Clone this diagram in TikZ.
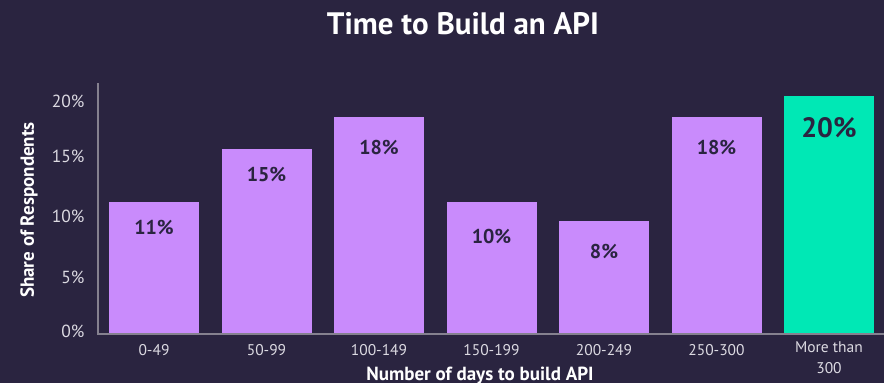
\documentclass[tikz,border=0pt]{standalone}
\usepackage{fontspec}
\setmainfont{PT Sans}
\usetikzlibrary{calc,positioning}

\definecolor{bg}{HTML}{2A2440}
\definecolor{barpurple}{HTML}{C98BFC}
\definecolor{bargreen}{HTML}{00E8B5}
\definecolor{axisgray}{HTML}{85818F}
\definecolor{ticktext}{HTML}{DCDAE2}

\tikzset{
  bar/.style={fill=barpurple, minimum width=90pt, inner sep=0pt, anchor=south},
  val/.style={text=bg, font=\bfseries\fontsize{20}{22}\selectfont},
  tick/.style={text=ticktext, anchor=east, font=\fontsize{17.5}{19}\selectfont},
  cat/.style={text=ticktext, align=center, font=\fontsize{15.5}{21}\selectfont},
  axtitle/.style={text=white, font=\bfseries\fontsize{19}{21}\selectfont}
}

\begin{document}
\begin{tikzpicture}[x=1pt, y=-1pt]
            \fill[bg] (0,0) rectangle (884,383);
            \useasboundingbox (0,0) rectangle (884,383);
            \node[text=white, font=\bfseries\fontsize{31}{34}\selectfont] (title) at (463,24) {Time to Build an API};
            % bars
            \node[bar, minimum height=132pt] (b1) at (154,334) {};
            \node[bar, minimum height=185pt] (b2) at (266.5,334) {};
            \node[bar, minimum height=217pt] (b3) at (379,334) {};
            \node[bar, minimum height=132pt] (b4) at (491.5,334) {};
            \node[bar, minimum height=113pt] (b5) at (604,334) {};
            \node[bar, minimum height=217pt] (b6) at (716.5,334) {};
            \node[bar, fill=bargreen, minimum height=238pt] (b7) at (829,334) {};
            % values
            \node[val] (v1) at ($(b1.north)+(0,26)$) {11\%};
            \node[val] (v2) at ($(b2.north)+(0,26)$) {15\%};
            \node[val] (v3) at ($(b3.north)+(0,31)$) {18\%};
            \node[val] (v4) at ($(b4.north)+(0,35)$) {10\%};
            \node[val] (v5) at ($(b5.north)+(0,31)$) {8\%};
            \node[val] (v6) at ($(b6.north)+(0,31)$) {18\%};
            \node[val, font=\bfseries\fontsize{28}{30}\selectfont] (v7) at ($(b7.north)+(0,32)$) {20\%};
            % axes
            \coordinate (top) at (98,83);
            \coordinate (origin) at (98,334);
            \coordinate (right) at (884,334);
            \draw[axisgray, line width=2pt] (top) -- (origin) -- (right);
            \node[tick] (t20) at (88,101.5) {20\%};
            \node[tick] (t15) at (88,156.5) {15\%};
            \node[tick] (t10) at (88,216.5) {10\%};
            \node[tick] (t5) at (88,277.5) {5\%};
            \node[tick] (t0) at (88,331) {0\%};
            % categories
            \node[cat] (c1) at ($(b1.south)+(0,16)$) {0-49};
            \node[cat] (c2) at ($(b2.south)+(0,16)$) {50-99};
            \node[cat] (c3) at ($(b3.south)+(0,16)$) {100-149};
            \node[cat] (c4) at ($(b4.south)+(0,16)$) {150-199};
            \node[cat] (c5) at ($(b5.south)+(0,16)$) {200-249};
            \node[cat] (c6) at ($(b6.south)+(0,16)$) {250-300};
            \node[cat] (c7) at ($(b7.south)+(0,24)$) {More than\\300};
            \node[axtitle] (xtitle) at (480,376) {Number of days to build API};
            \node[axtitle, rotate=90] (ytitle) at (29,210) {Share of Respondents};
        \end{tikzpicture}
\end{document}
